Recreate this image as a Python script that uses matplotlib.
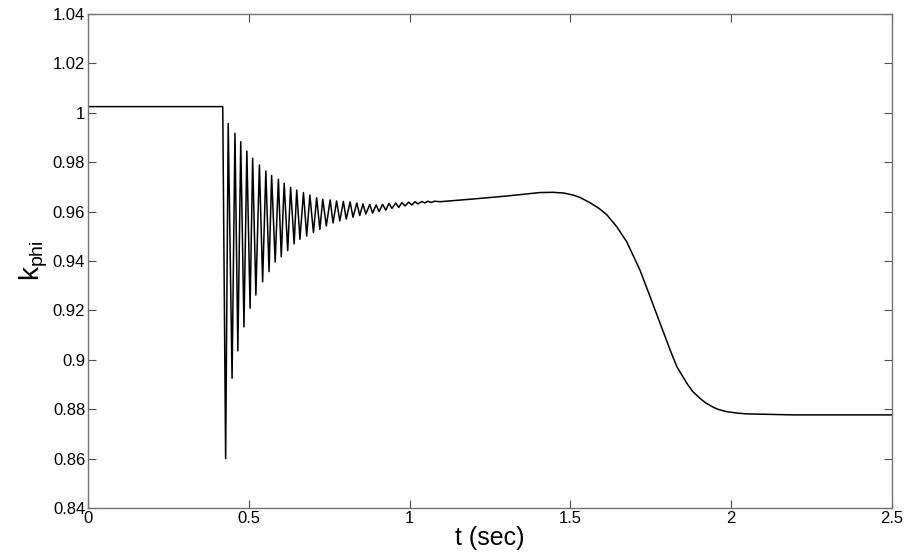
import matplotlib
matplotlib.use("Agg")
from matplotlib import pyplot as plt

# flux factor before the fault
t_pre = [0.0, 0.419]
k_pre = [1.0025, 1.0025]

# turning points of the oscillation after the fault
t_min = [0.428, 0.448, 0.466, 0.485, 0.504, 0.522, 0.543, 0.563, 0.582, 0.601,
         0.621, 0.641, 0.659, 0.680, 0.701, 0.721, 0.741, 0.762, 0.783, 0.803,
         0.824, 0.845, 0.864, 0.885, 0.905, 0.926, 0.945, 0.966, 0.986, 1.007,
         1.026, 1.047, 1.067]
k_min = [0.8600, 0.8925, 0.9036, 0.9133, 0.9209, 0.9262, 0.9316, 0.9357, 0.9396, 0.9417,
         0.9442, 0.9469, 0.9488, 0.9501, 0.9515, 0.9528, 0.9542, 0.9554, 0.9562, 0.9570,
         0.9577, 0.9584, 0.9590, 0.9594, 0.9600, 0.9606, 0.9613, 0.9617, 0.9623, 0.9627,
         0.9631, 0.9635, 0.9637]
t_max = [0.436, 0.457, 0.475, 0.494, 0.512, 0.533, 0.553, 0.571, 0.592, 0.610,
         0.630, 0.649, 0.670, 0.690, 0.711, 0.730, 0.753, 0.773, 0.794, 0.815,
         0.836, 0.855, 0.876, 0.896, 0.916, 0.936, 0.957, 0.976, 0.997, 1.017,
         1.038, 1.057, 1.078]
k_max = [0.9957, 0.9917, 0.9883, 0.9845, 0.9816, 0.9789, 0.9764, 0.9746, 0.9731, 0.9715,
         0.9698, 0.9687, 0.9677, 0.9667, 0.9656, 0.9650, 0.9647, 0.9643, 0.9641, 0.9639,
         0.9635, 0.9631, 0.9629, 0.9627, 0.9629, 0.9633, 0.9635, 0.9636, 0.9638, 0.9640,
         0.9641, 0.9642, 0.9642]

# slow part after the oscillation dies out
t_post = [1.0945, 1.198, 1.302, 1.405, 1.446, 1.480, 1.508, 1.530, 1.561, 1.590,
          1.614, 1.644, 1.675, 1.716, 1.748, 1.779, 1.810, 1.831, 1.862, 1.880,
          1.903, 1.920, 1.944, 1.960, 1.986, 2.020, 2.048, 2.193, 2.5]
k_post = [0.9640, 0.9651, 0.9663, 0.9677, 0.9678, 0.9675, 0.9667, 0.9657, 0.9636, 0.9612,
          0.9586, 0.9539, 0.9478, 0.9364, 0.9255, 0.9147, 0.9040, 0.8972, 0.8905, 0.8872,
          0.8844, 0.8826, 0.8808, 0.8799, 0.8790, 0.8784, 0.8781, 0.8777, 0.8777]

yticks = [0.84, 0.86, 0.88, 0.9, 0.92, 0.94, 0.96, 0.98, 1, 1.02, 1.04]
yticklabels = ["0.84", "0.86", "0.88", "0.9", "0.92", "0.94", "0.96", "0.98", "1", "1.02", "1.04"]
xticks = [0, 0.5, 1, 1.5, 2, 2.5]
xticklabels = ["0", "0.5", "1", "1.5", "2", "2.5"]

# put the pieces together in time order
t = list(t_pre)
k = list(k_pre)
for a, b, c, d in zip(t_min, k_min, t_max, k_max):
    t += [a, c]
    k += [b, d]
t += t_post
k += k_post

plt.rcParams['font.family'] = ['Liberation Sans', 'DejaVu Sans']

fig = plt.figure(figsize=(9.08, 5.55), dpi=100)
ax = fig.add_axes([0.0969, 0.0847, 0.8855, 0.8901])
ax.plot(t, k, color="black", linewidth=1.1)

ax.set_xlim(0, 2.5)
ax.set_ylim(0.84, 1.04)
ax.set_xticks(xticks)
ax.set_xticklabels(xticklabels)
ax.set_yticks(yticks)
ax.set_yticklabels(yticklabels)
ax.tick_params(direction="in", length=6, width=0.8, labelsize=12, pad=2,
               top=True, right=True, color="0.3")
for sp in ax.spines.values():
    sp.set_color("0.45")
    sp.set_linewidth(1.0)

ax.set_xlabel("t (sec)", fontsize=18, labelpad=0)
ax.set_ylabel(r"$\mathregular{k_{phi}}$", fontsize=20, labelpad=2)

fig.savefig("out.png", dpi=100)
